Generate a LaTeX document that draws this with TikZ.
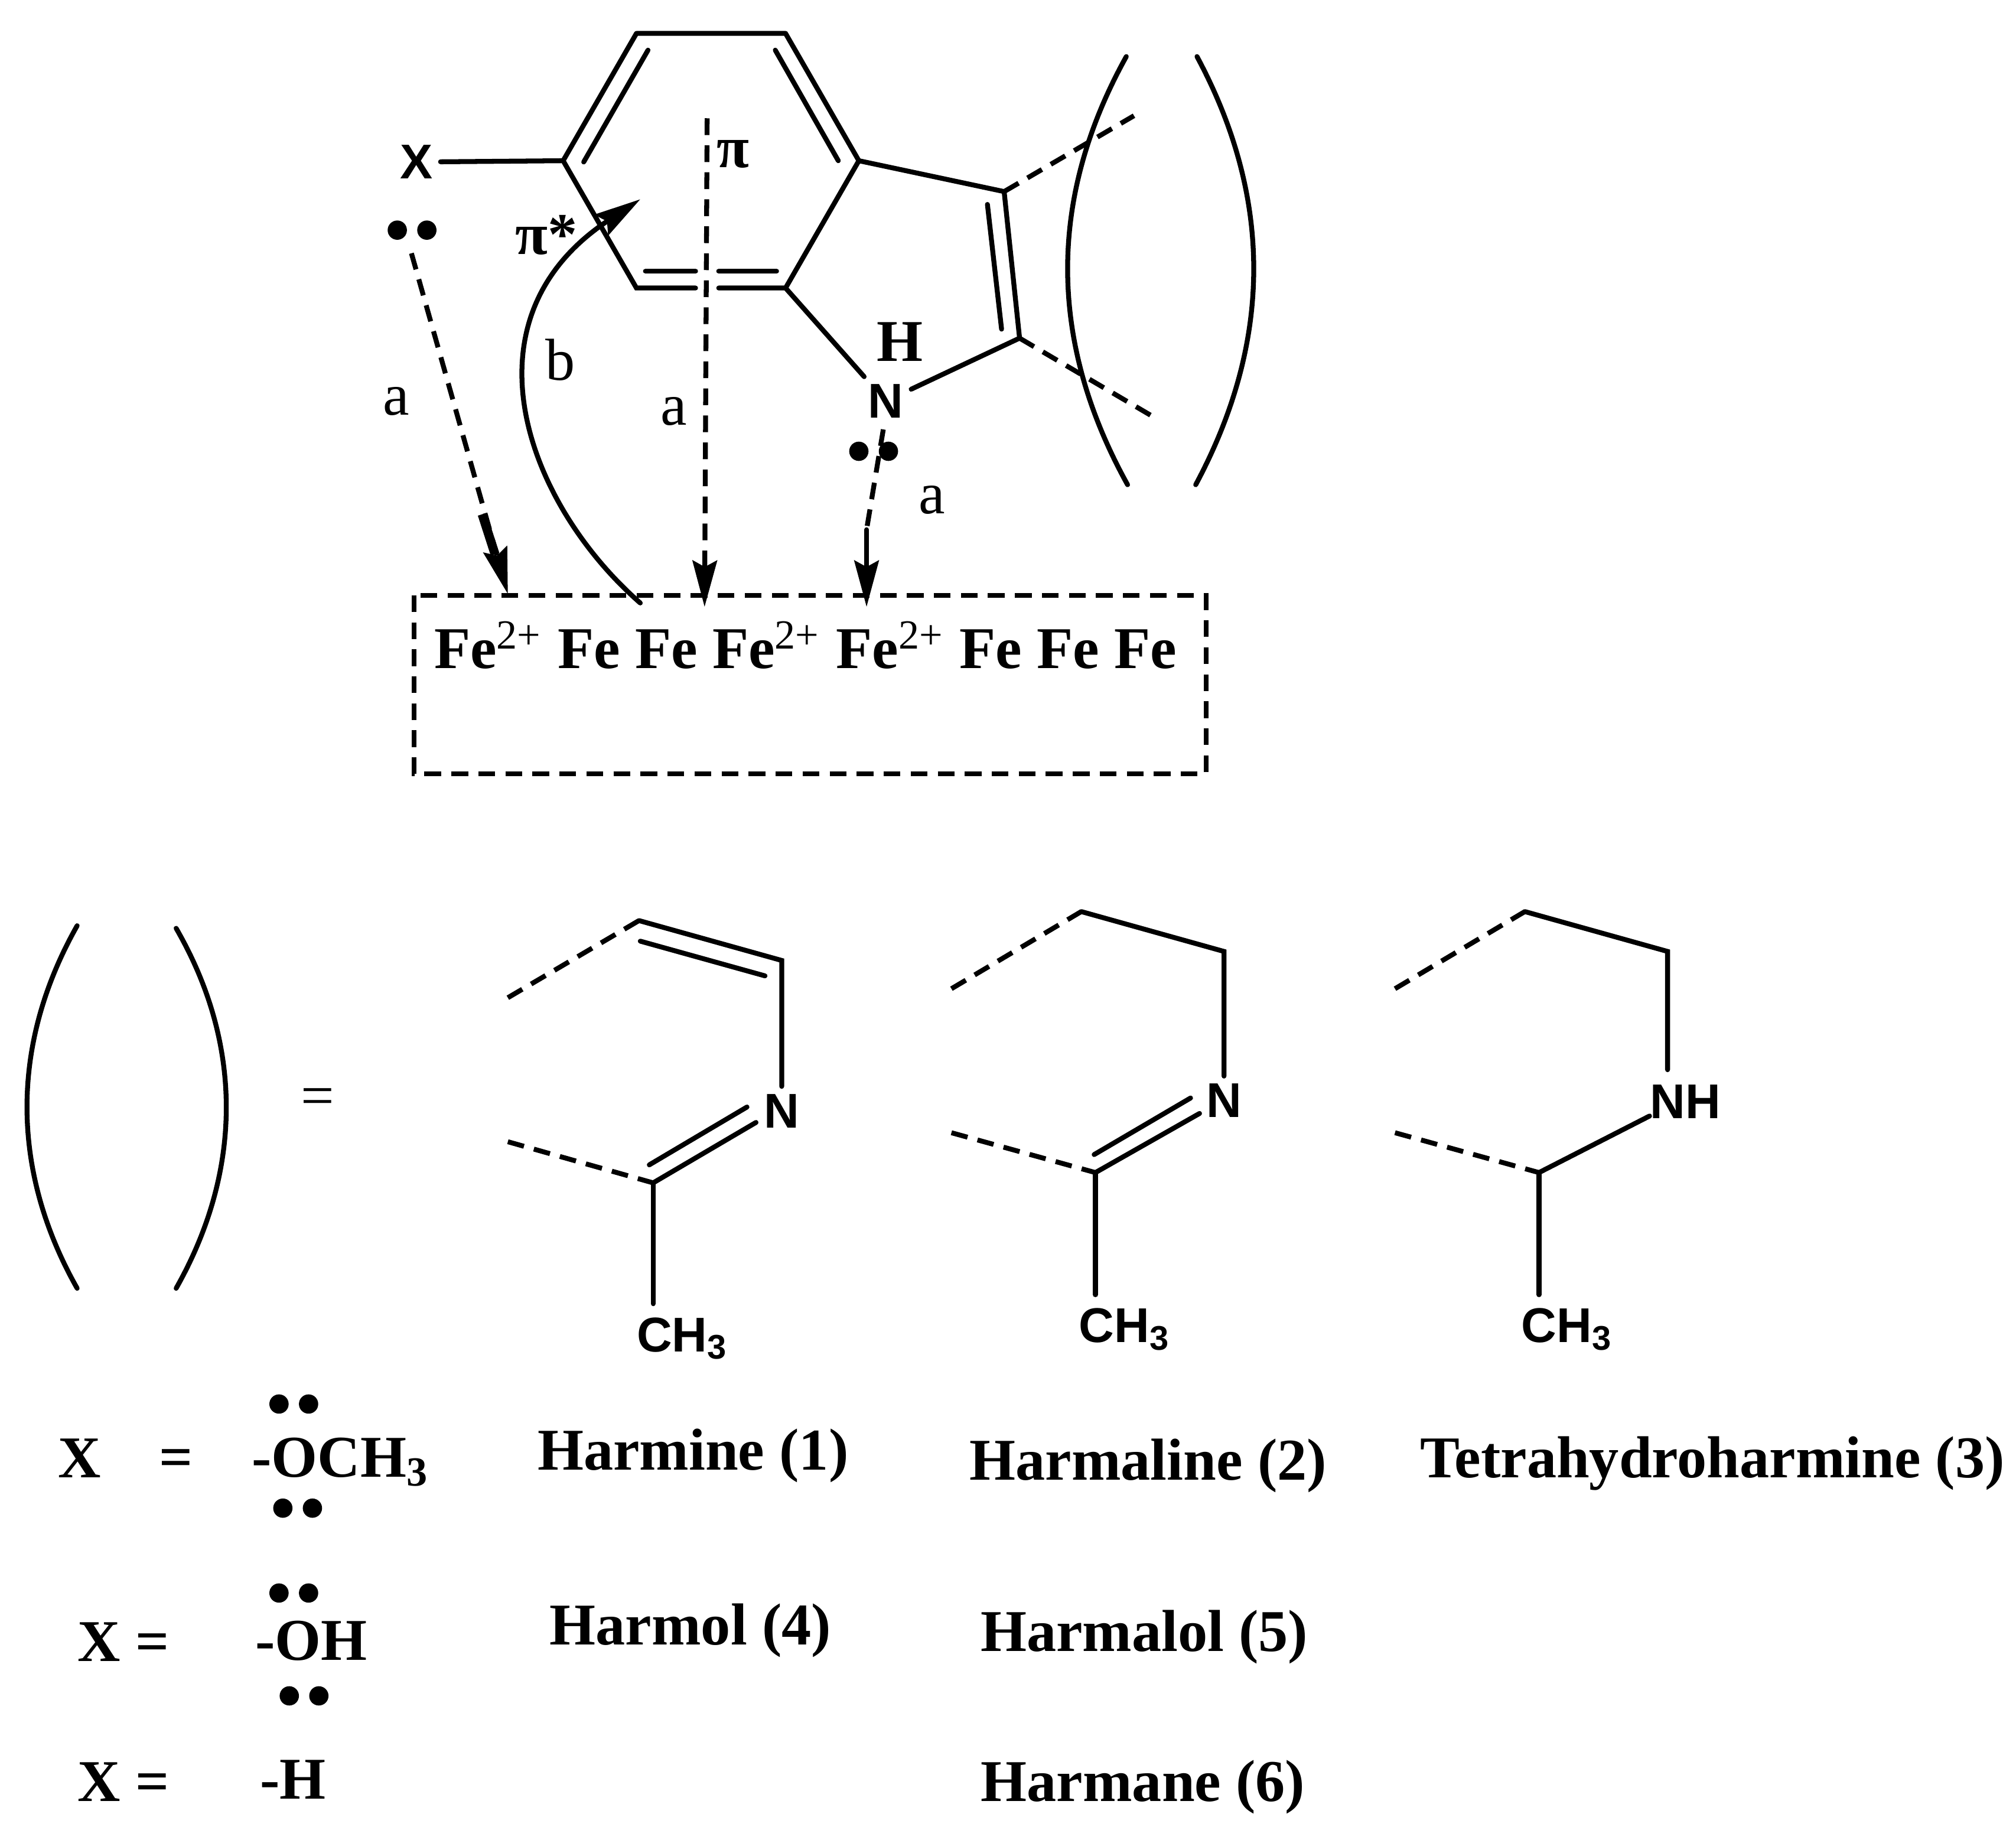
\documentclass[tikz,border=0pt]{standalone}
\usepackage{fontspec}
\setmainfont{Liberation Serif}
\newfontfamily\atomfont{Liberation Sans}
\usetikzlibrary{arrows.meta}
\tikzset{
  bond/.style={black, line width=0.038cm, line cap=round},
  dashbond/.style={black, line width=0.038cm, dash pattern=on 0.13cm off 0.08cm},
  tiparrow/.style={-{Stealth[length=0.36cm,width=0.19cm,inset=0.05cm]}},
  atom/.style={font=\atomfont\bfseries\fontsize{10.8}{12}\selectfont, inner sep=1.5pt},
  lbl/.style={font=\fontsize{13.1}{15}\selectfont, inner sep=0pt},
  bold/.style={font=\bfseries\fontsize{13.1}{15}\selectfont, inner sep=0pt}
}
\begin{document}
\begin{tikzpicture}[x=0.01cm,y=-0.01cm]
\useasboundingbox (0,0) rectangle (1568,1421);

% ring atoms
\coordinate (c1) at (495,26);
\coordinate (c2) at (611,26);
\coordinate (c3) at (668,125);
\coordinate (c4) at (611,224);
\coordinate (c5) at (495,224);
\coordinate (c6) at (438,125);
\coordinate (c7) at (781,149);
\coordinate (c8) at (793,263);
\coordinate (gapl) at (541,224);
\coordinate (gapr) at (559,224);
\node[atom] (xsub) at (324,126) {X};
\node[atom] (nring) at (689,312) {N};
\node[bold] (hring) at (700,266) {H};

\draw[bond, line join=round] (xsub) -- (c6) -- (c1) -- (c2) -- (c3) -- (c4) -- (gapr);
\draw[bond] (gapl) -- (c5) -- (c6);
\draw[bond] (c3) -- (c7) -- (c8) -- (nring) -- (c4);
\draw[bond] (454,126) -- (504,39);
\draw[bond] (603,39) -- (652,125);
\draw[bond] (502,211) -- (541,211);
\draw[bond] (559,211) -- (604,211);
\draw[bond] (768,159) -- (779,256);

% open ends
\coordinate (e1) at (882,90);
\coordinate (e2) at (895,323);
\draw[dashbond] (c7) -- (e1);
\draw[dashbond] (c8) -- (e2);

% brackets
\draw[bond] (876,44) .. controls (815,154) and (815,265) .. (877,377);
\draw[bond] (931,44) .. controls (990,154) and (990,265) .. (930,377);
\draw[bond] (60,720) .. controls (8,812) and (8,910) .. (60,1002);
\draw[bond] (137,722) .. controls (189,812) and (189,910) .. (137,1002);

% iron box
\node[bold, anchor=base west] (ironrow) at (337,520) {Fe\textsuperscript{\normalfont 2+} Fe Fe Fe\textsuperscript{\normalfont 2+} Fe\textsuperscript{\normalfont 2+} Fe Fe Fe};
\coordinate (bx1) at (322,463);
\coordinate (bx2) at (938,602);
\draw[dashbond] (bx1) rectangle (bx2);

% arrows
\coordinate (t1) at (395,462);
\coordinate (t2) at (548,472);
\coordinate (t3) at (674,472);
\coordinate (s1) at (320,197);
\coordinate (s2) at (550,92);
\coordinate (s3) at (687,334);
\draw[dashbond, tiparrow] (s1) -- (t1);
\draw[black, line width=0.07cm] (375,400) -- (385,431);
\draw[dashbond, tiparrow] (s2) -- (t2);
\draw[dashbond] (s3) -- (674,412);
\draw[bond, tiparrow] (674,412) -- (t3);
\coordinate (b1) at (498,469);
\coordinate (b2) at (498,155);
\draw[bond, tiparrow] (b1) .. controls (410,392) and (356,249) .. (b2);

\node[bold] (pilabel) at (570,120) {π};
\node[bold] (pistar) at (425,183) {π*};
\node[lbl] (a1) at (308,312) {a};
\node[lbl] (b0) at (436,280) {b};
\node[lbl] (a2) at (524,320) {a};
\node[lbl] (a3) at (725,389) {a};

% lone pairs
\foreach \px/\py in {309/179,332/179,668/351,691/351,217/1092,240/1092,220/1173,243/1173,217/1239,240/1239,225/1319,248/1319}
  \fill (\px,\py) circle[radius=7.5];

\node[lbl] (eqs) at (247,857) {=};

% harmine ring
\coordinate (h1) at (497,716);
\coordinate (h2) at (608,747);
\coordinate (h3) at (508,920);
\coordinate (h4) at (395,776);
\coordinate (h5) at (395,888);
\coordinate (h6) at (508,1014);
\node[atom] (hn) at (608,864) {N};
\node[atom] (hme) at (531,1041) {CH\textsubscript{3}};
\draw[dashbond] (h4) -- (h1);
\draw[bond] (h1) -- (h2) -- (hn);
\draw[bond] (498,732) -- (595,759);
\draw[bond] (h3) -- (588,873);
\draw[bond] (505,906) -- (581,861);
\draw[dashbond] (h5) -- (h3);
\draw[bond] (h3) -- (h6);

% harmaline ring
\coordinate (m1) at (841,709);
\coordinate (m2) at (952,740);
\coordinate (m3) at (852,912);
\coordinate (m4) at (740,769);
\coordinate (m5) at (740,881);
\coordinate (m6) at (852,1007);
\node[atom] (mn) at (952,856) {N};
\node[atom] (mme) at (875,1034) {CH\textsubscript{3}};
\draw[dashbond] (m4) -- (m1);
\draw[bond] (m1) -- (m2) -- (mn);
\draw[bond] (m3) -- (933,866);
\draw[bond] (851,898) -- (926,854);
\draw[dashbond] (m5) -- (m3);
\draw[bond] (m3) -- (m6);

% tetrahydro ring
\coordinate (r1) at (1186,709);
\coordinate (r2) at (1297,740);
\coordinate (r3) at (1197,912);
\coordinate (r4) at (1085,769);
\coordinate (r5) at (1085,881);
\coordinate (r6) at (1197,1007);
\coordinate (r7) at (1297,832);
\coordinate (r8) at (1283,868);
\node[atom] (rn) at (1311,857) {NH};
\node[atom] (rme) at (1219,1034) {CH\textsubscript{3}};
\draw[dashbond] (r4) -- (r1);
\draw[bond] (r1) -- (r2) -- (r7);
\draw[bond] (r3) -- (r8);
\draw[dashbond] (r5) -- (r3);
\draw[bond] (r3) -- (r6);

% substituent table
\node[bold] (x1) at (62,1134) {X};
\node[bold] (q1) at (137,1138) {=};
\node[bold] (och) at (265,1137) {-OCH\textsubscript{3}};
\node[bold] (n1) at (539,1132) {Harmine (1)};
\node[bold] (n2) at (893,1140) {Harmaline (2)};
\node[bold] (n3) at (1332,1138) {Tetrahydroharmine (3)};
\node[bold] (x2) at (96,1277) {X =};
\node[bold] (oh) at (242,1276) {-OH};
\node[bold] (n4) at (537,1268) {Harmol (4)};
\node[bold] (n5) at (890,1273) {Harmalol (5)};
\node[bold] (x3) at (96,1386) {X =};
\node[bold] (hh) at (228,1384) {-H};
\node[bold] (n6) at (889,1390) {Harmane (6)};

\end{tikzpicture}
\end{document}
